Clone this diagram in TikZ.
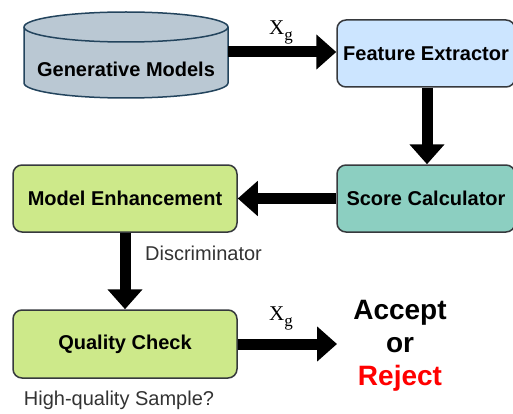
\documentclass[tikz,border=0pt]{standalone}
\usepackage{fontspec}
\setmainfont{Liberation Sans}
\newfontfamily\serifxg{Liberation Serif}
\usetikzlibrary{arrows.meta}
\definecolor{cylfill}{HTML}{BAC8D3}
\definecolor{cylline}{HTML}{23445D}
\definecolor{boxline}{HTML}{36393D}
\definecolor{bluefill}{HTML}{CCE5FF}
\definecolor{tealfill}{HTML}{8CCFC1}
\definecolor{greenfill}{HTML}{CDE98A}
\definecolor{labelgray}{HTML}{333333}
\newcommand{\xglabel}{X\raisebox{-6pt}{\fontsize{17}{17}\selectfont g}}
\tikzset{
  stagebox/.style={draw=boxline, line width=1.5pt, rounded corners=9pt,
    font=\fontsize{20}{23}\selectfont\bfseries, align=center, inner sep=0pt},
  flow/.style={line width=11pt, -{Triangle[length=20pt,width=34pt]}},
  sublabel/.style={font=\serifxg\fontsize{21}{23}\selectfont, inner sep=0pt},
  note/.style={font=\fontsize{20}{23}\selectfont, text=labelgray, inner sep=0pt}
}
\begin{document}
\begin{tikzpicture}[x=1pt,y=1pt]
\useasboundingbox (0,0) rectangle (513,413);
\clip (0,0) rectangle (513,413);
% data source: cylinder
\node (gm) [minimum width=204pt, minimum height=86pt, inner sep=0pt] at (126,358) {};
\draw[cylline, fill=cylfill, line width=1.5pt]
  (24,386) -- (24,330) arc[start angle=180, end angle=360, x radius=102, y radius=15]
  -- (228,386) arc[start angle=0, end angle=180, x radius=102, y radius=15] -- cycle;
\draw[cylline, line width=1.5pt] (24,386) arc[start angle=180, end angle=360, x radius=102, y radius=15];
\node (gmtext) [font=\fontsize{20}{23}\selectfont\bfseries, inner sep=0pt] at (126,344) {Generative Models};
% processing stages
\node (fe) [stagebox, fill=bluefill, minimum width=178pt, minimum height=67pt] at (426,359.5) {Feature Extractor};
\node (sc) [stagebox, fill=tealfill, minimum width=178pt, minimum height=67pt] at (426,214.5) {Score Calculator};
\node (me) [stagebox, fill=greenfill, minimum width=224pt, minimum height=67pt] at (125,214.5) {Model Enhancement};
\node (qc) [stagebox, fill=greenfill, minimum width=224pt, minimum height=68pt] at (125,69) {Quality Check};
% decision text
\node (acc) [font=\fontsize{28}{30}\selectfont\bfseries, inner sep=0pt] at (400,100) {Accept};
\node (or) [font=\fontsize{28}{30}\selectfont\bfseries, inner sep=0pt] at (400,68) {or};
\node (rej) [font=\fontsize{28}{30}\selectfont\bfseries, text=red, inner sep=0pt] at (400,35) {Reject};
\coordinate (qcend) at (337,69);
% connectors
\draw[flow] (gm.east |- 0,361) -- (fe.west |- 0,361);
\draw[flow] (fe.south -| 427,0) -- (sc.north -| 427,0);
\draw[flow] (sc.west) -- (me.east);
\draw[flow] (me.south) -- (qc.north);
\draw[flow] (qc.east) -- (qcend);
% labels
\node (xg1) [sublabel, anchor=base west] at (269,378) {\xglabel};
\node (xg2) [sublabel, anchor=base west] at (269,93) {\xglabel};
\node (disc) [note, anchor=west] at (145,160) {Discriminator};
\node (hq) [note] at (119,13) {High-quality Sample?};
\end{tikzpicture}
\end{document}
